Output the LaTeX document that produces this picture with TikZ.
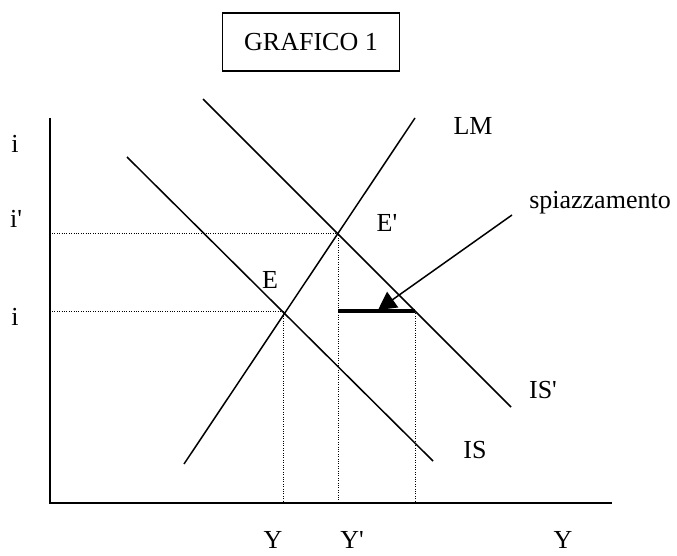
\documentclass[tikz,border=0pt]{standalone}
\usepackage{fontspec}
\setmainfont{Liberation Serif}
\usetikzlibrary{arrows.meta}
\newcommand{\pr}{\textquotesingle}
\begin{document}
\begin{tikzpicture}[x=1pt,y=-1pt,
  axisline/.style={line width=1.6pt},
  curve/.style={line width=1.5pt},
  guide/.style={line width=1pt, dash pattern=on 1pt off 1.4pt},
  lbl/.style={font=\fontsize{26}{30}\selectfont, inner sep=0pt},
  crowdseg/.style={line width=4pt},
  pointer/.style={line width=1.5pt, -{Triangle[length=18pt,width=19pt]}},
]
\useasboundingbox (0,0) rectangle (677,556);
% title
\node[draw, line width=1.5pt, minimum width=177pt, minimum height=58pt, lbl] (title) at (311,42) {GRAFICO 1};
% axes
\coordinate (ytop) at (50,118);
\coordinate (O) at (50,503);
\coordinate (xend) at (612,503);
\draw[axisline] (ytop) -- (O) -- (xend);
\draw[line width=1.4pt] (49.2,177) -- (49.2,195);
\draw[line width=1.4pt] (49.2,253) -- (49.2,290);
% key points
\coordinate (E) at (283,311);
\coordinate (Ep) at (338,233);
\coordinate (F) at (415,311);
\coordinate (G) at (338,311);
\coordinate (ia) at (52,311);
\coordinate (ib) at (52,233);
\coordinate (xa) at (283,503);
\coordinate (xb) at (338,503);
\coordinate (xc) at (415,503);
% curves
\coordinate (LMlo) at (184,464);
\coordinate (LMhi) at (415,118);
\coordinate (ISlo) at (433,461);
\coordinate (IShi) at (127,157);
\coordinate (ISplo) at (511,407);
\coordinate (ISphi) at (203,99);
\draw[curve] (LMlo) -- (LMhi);
\draw[curve] (IShi) -- (ISlo);
\draw[curve] (ISphi) -- (ISplo);
% guides
\draw[guide] (ib) -- (Ep);
\draw[guide] (ia) -- (E);
\draw[guide] (E) -- (xa);
\draw[guide] (Ep) -- (xb);
\draw[guide] (F) -- (xc);
% crowding out segment
\draw[crowdseg] (G) -- (F);
\coordinate (ptail) at (512,215);
\coordinate (ptip) at (378,310);
\draw[pointer] (ptail) -- (ptip);
% labels
\node[lbl] (li1) at (15,144) {i};
\node[lbl] (li2) at (16,219) {i\pr};
\node[lbl] (li3) at (15,317) {i};
\node[lbl] (lY1) at (273,540) {Y};
\node[lbl] (lY2) at (352,540) {Y\pr};
\node[lbl] (lY3) at (563,540) {Y};
\node[lbl] (lLM) at (473,126) {LM};
\node[lbl] (lE) at (270,280) {E};
\node[lbl] (lEp) at (387,223) {E\pr};
\node[lbl, anchor=base] (lsp) at (600,208) {spiazzamento};
\node[lbl] (lISp) at (543,390) {IS\pr};
\node[lbl] (lIS) at (475,450) {IS};
\end{tikzpicture}
\end{document}
